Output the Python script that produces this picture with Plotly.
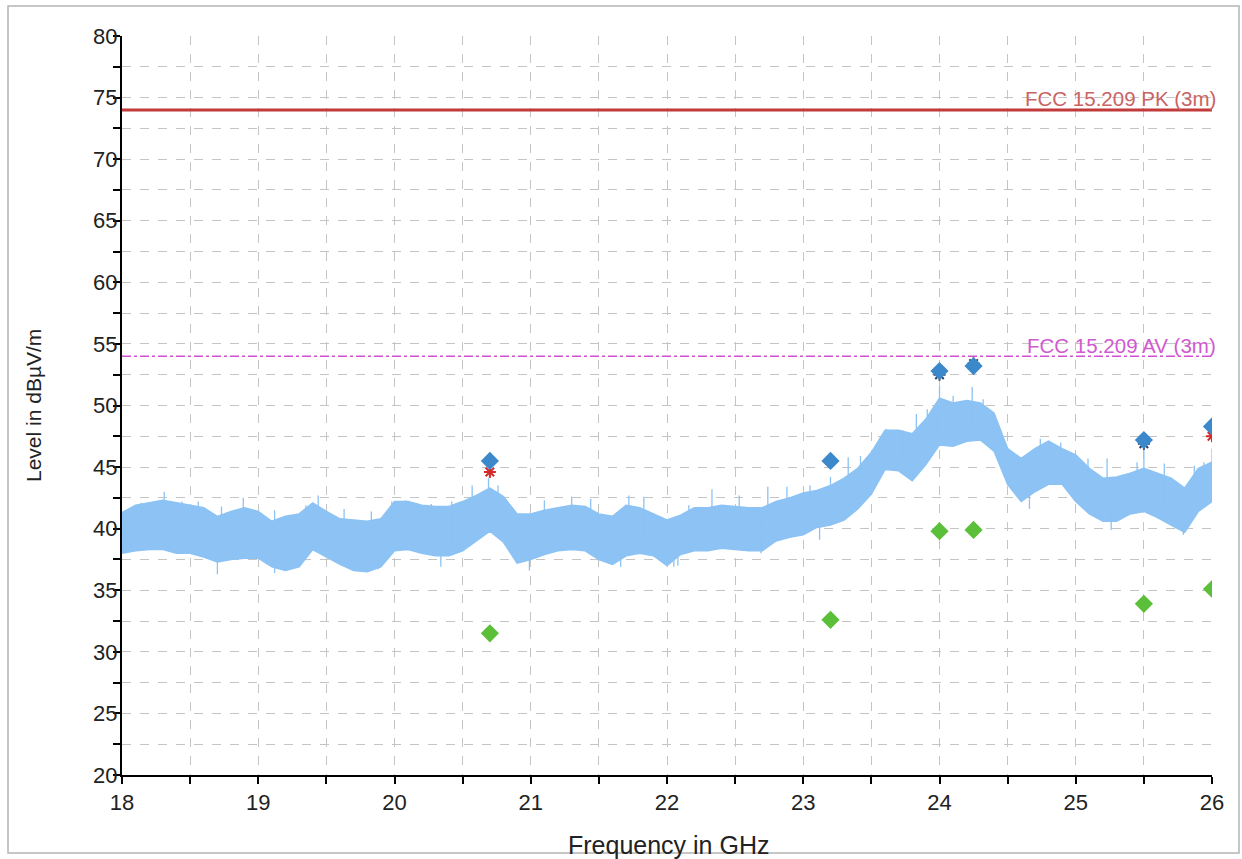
import numpy as np
import plotly.graph_objects as go

# ---------------- data ----------------
freq_ghz = [round(18.0 + 0.1 * i, 1) for i in range(81)]

trace_upper = [
    41.3, 41.9, 42.1, 42.3, 42.1, 41.9, 41.7, 41.0, 41.4, 41.7,
    41.4, 40.6, 41.0, 41.2, 42.1, 41.4, 40.8, 40.7, 40.6, 40.8,
    42.2, 42.2, 41.9, 41.8, 41.8, 42.2, 42.7, 43.3, 42.6, 41.2,
    41.2, 41.5, 41.7, 41.9, 41.8, 41.2, 41.0, 41.9, 41.7, 41.2,
    40.7, 41.1, 41.7, 41.7, 41.9, 41.8, 41.7, 41.7, 42.2, 42.5,
    42.9, 43.1, 43.5, 44.1, 44.9, 46.2, 48.0, 48.0, 47.7, 48.9,
    50.6, 50.2, 50.4, 50.2, 49.4, 46.5, 45.7, 46.5, 47.1, 46.5,
    46.0, 44.9, 44.1, 44.2, 44.5, 44.9, 44.5, 44.1, 43.3, 44.9,
    45.4,
]
trace_lower = [
    38.0, 38.2, 38.3, 38.3, 38.0, 38.0, 37.7, 37.3, 37.5, 37.6,
    37.6, 36.9, 36.6, 36.9, 38.3, 37.7, 37.1, 36.6, 36.5, 36.9,
    38.2, 38.3, 38.0, 37.8, 37.8, 38.2, 39.0, 39.8, 38.9, 37.2,
    37.5, 37.9, 38.2, 38.3, 38.2, 37.5, 37.1, 37.8, 38.0, 37.8,
    37.0, 37.9, 38.2, 38.2, 38.4, 38.3, 38.2, 38.2, 39.0, 39.3,
    39.5, 40.1, 40.3, 40.7, 41.6, 42.8, 44.8, 44.7, 43.9, 45.2,
    46.8, 46.7, 47.1, 47.2, 46.3, 43.6, 42.2, 43.0, 43.6, 43.6,
    42.2, 41.2, 40.6, 40.6, 41.2, 41.4, 40.9, 40.3, 39.7, 41.4,
    42.2,
]

# narrow spikes rising above the noise band
spike_up_freq = [18.14, 18.31, 18.44, 18.56, 18.73, 18.89, 19.12, 19.35, 19.44, 19.63,
                 19.83, 19.98, 20.08, 20.27, 20.42, 20.57, 20.69, 20.76, 21.10, 21.30,
                 21.44, 21.72, 21.83, 22.16, 22.33, 22.53, 22.74, 22.88, 23.05, 23.20,
                 23.33, 23.42, 23.61, 23.73, 23.83, 23.91, 23.98, 24.00, 24.10, 24.24,
                 24.32, 24.41, 24.74, 24.89, 25.09, 25.23, 25.45, 25.50, 25.65, 25.87,
                 25.94, 26.00]
spike_up_top = [42.1, 43.0, 42.2, 42.2, 41.8, 42.5, 41.5, 41.9, 42.7, 41.6,
                41.4, 42.2, 42.3, 42.0, 42.2, 43.5, 44.1, 43.5, 42.3, 42.6,
                42.4, 42.7, 42.6, 41.9, 43.2, 42.7, 43.4, 43.4, 43.5, 44.2,
                45.8, 45.9, 48.1, 48.0, 49.3, 49.7, 49.7, 51.6, 50.8, 51.5,
                50.5, 49.2, 47.3, 47.0, 45.7, 45.7, 45.4, 46.5, 45.3, 45.1,
                45.4, 46.5]

# narrow spikes dipping below the noise band
spike_dn_freq = [18.70, 19.12, 19.30, 19.72, 19.88, 20.34, 20.99, 21.66, 22.05, 22.08,
                 22.69, 23.12, 24.66, 25.26, 25.79]
spike_dn_bottom = [36.3, 36.4, 37.0, 36.6, 36.7, 36.9, 36.6, 36.9, 36.9, 37.0,
                   38.0, 39.1, 41.6, 39.9, 39.5]

# final measurement points
meas_freq = [20.70, 23.20, 24.00, 24.25, 25.50, 26.00]
peak_level = [45.5, 45.5, 52.8, 53.2, 47.2, 48.3]
avg_level = [31.5, 32.6, 39.8, 39.9, 33.9, 35.1]

red_star_freq = [20.70, 26.00]
red_star_level = [44.6, 47.5]
dark_star_freq = [24.00, 24.25, 25.50]
dark_star_level = [52.5, 53.4, 46.9]

limit_pk = 74.0
limit_av = 54.0
limit_pk_label = "FCC 15.209 PK (3m)"
limit_av_label = "FCC 15.209 AV (3m)"

x_title = "Frequency in GHz"
y_title = "Level in dBµV/m"

# ---------------- figure ----------------
FONT = "Liberation Sans, Arial, sans-serif"
band_color = "#8cc2f4"

fig = go.Figure()

# noise band
fig.add_trace(go.Scatter(
    x=freq_ghz + freq_ghz[::-1],
    y=trace_upper + trace_lower[::-1],
    fill="toself", fillcolor=band_color,
    line=dict(color=band_color, width=1.5),
    mode="lines", hoverinfo="skip", showlegend=False,
))

# spikes
up_base = np.interp(spike_up_freq, freq_ghz, trace_lower) + 1.0
dn_base = np.interp(spike_dn_freq, freq_ghz, trace_upper) - 1.0
sx, sy = [], []
for f, b, t in zip(spike_up_freq, up_base, spike_up_top):
    sx += [f, f, None]
    sy += [float(b), t, None]
for f, b, t in zip(spike_dn_freq, dn_base, spike_dn_bottom):
    sx += [f, f, None]
    sy += [float(b), t, None]
fig.add_trace(go.Scatter(x=sx, y=sy, mode="lines",
                         line=dict(color=band_color, width=1.3),
                         hoverinfo="skip", showlegend=False))

# limit lines
fig.add_trace(go.Scatter(x=[18, 26], y=[limit_pk, limit_pk], mode="lines",
                         line=dict(color="#c23b3b", width=3), showlegend=False))
fig.add_trace(go.Scatter(x=[18, 26], y=[limit_av, limit_av], mode="lines",
                         line=dict(color="#d24fd2", width=1.5, dash="dashdot"),
                         showlegend=False))

# asterisks
fig.add_trace(go.Scatter(x=red_star_freq, y=red_star_level, mode="markers",
                         marker=dict(symbol="asterisk-open", size=10, color="#d42a2a",
                                     line=dict(color="#d42a2a", width=2)),
                         showlegend=False))
fig.add_trace(go.Scatter(x=dark_star_freq, y=dark_star_level, mode="markers",
                         marker=dict(symbol="asterisk-open", size=10, color="#2b3d66",
                                     line=dict(color="#2b3d66", width=2)),
                         showlegend=False))

# diamonds
fig.add_trace(go.Scatter(x=meas_freq, y=peak_level, mode="markers",
                         marker=dict(symbol="diamond", size=14, color="#3b88cb"),
                         showlegend=False))
fig.add_trace(go.Scatter(x=meas_freq, y=avg_level, mode="markers",
                         marker=dict(symbol="diamond", size=14, color="#5cbf3a"),
                         showlegend=False))

grid_col = "#c4c4c4"
axis_common = dict(
    showline=True, linecolor="black", linewidth=2,
    ticks="outside", ticklen=7, tickwidth=1.5, tickcolor="black",
    showgrid=True, gridcolor=grid_col, gridwidth=1, griddash="dash",
    zeroline=False, tickfont=dict(family=FONT, size=22, color="#222"),
    mirror=False,
)

fig.update_xaxes(range=[18, 26], tick0=18, dtick=1,
                 minor=dict(dtick=0.5, ticks="outside", ticklen=7, tickwidth=1.5,
                            tickcolor="black", showgrid=True, gridcolor=grid_col,
                            griddash="dash"),
                 **axis_common)
fig.update_yaxes(range=[20, 80], tick0=20, dtick=5, ticklabelstandoff=-9,
                 minor=dict(dtick=2.5, ticks="outside", ticklen=7, tickwidth=1.5,
                            tickcolor="black", showgrid=True, gridcolor=grid_col,
                            griddash="dash"),
                 **axis_common)

W, H = 1242, 859
L, R, T, B = 122, 30, 36, 84
pw, ph = W - L - R, H - T - B

def px_x(p):
    return (p - L) / pw

def px_y(p):
    return (H - B - p) / ph

fig.update_layout(
    width=W, height=H,
    margin=dict(l=L, r=R, t=T, b=B),
    paper_bgcolor="white", plot_bgcolor="white",
    font=dict(family=FONT, color="#222"),
    showlegend=False,
    shapes=[dict(type="rect", xref="paper", yref="paper",
                 x0=px_x(8), x1=px_x(1239), y0=px_y(853), y1=px_y(6),
                 line=dict(color="#b4b4b4", width=1.5), layer="below")],
    annotations=[
        dict(text=x_title, xref="paper", yref="paper", x=px_x(669), y=px_y(845),
             xanchor="center", yanchor="middle", showarrow=False,
             font=dict(family=FONT, size=25, color="#222")),
        dict(text=y_title, xref="paper", yref="paper", x=px_x(33), y=px_y(406),
             xanchor="center", yanchor="middle", textangle=-90, showarrow=False,
             font=dict(family=FONT, size=21, color="#222")),
        dict(text=limit_pk_label, xref="paper", yref="y", x=px_x(1218), y=limit_pk,
             xanchor="right", yanchor="middle", yshift=11, showarrow=False,
             font=dict(family=FONT, size=20.5, color="#c86464")),
        dict(text=limit_av_label, xref="paper", yref="y", x=px_x(1218), y=limit_av,
             xanchor="right", yanchor="middle", yshift=11, showarrow=False,
             font=dict(family=FONT, size=20.5, color="#d05ad0")),
    ],
)

fig.write_html("out.html")
